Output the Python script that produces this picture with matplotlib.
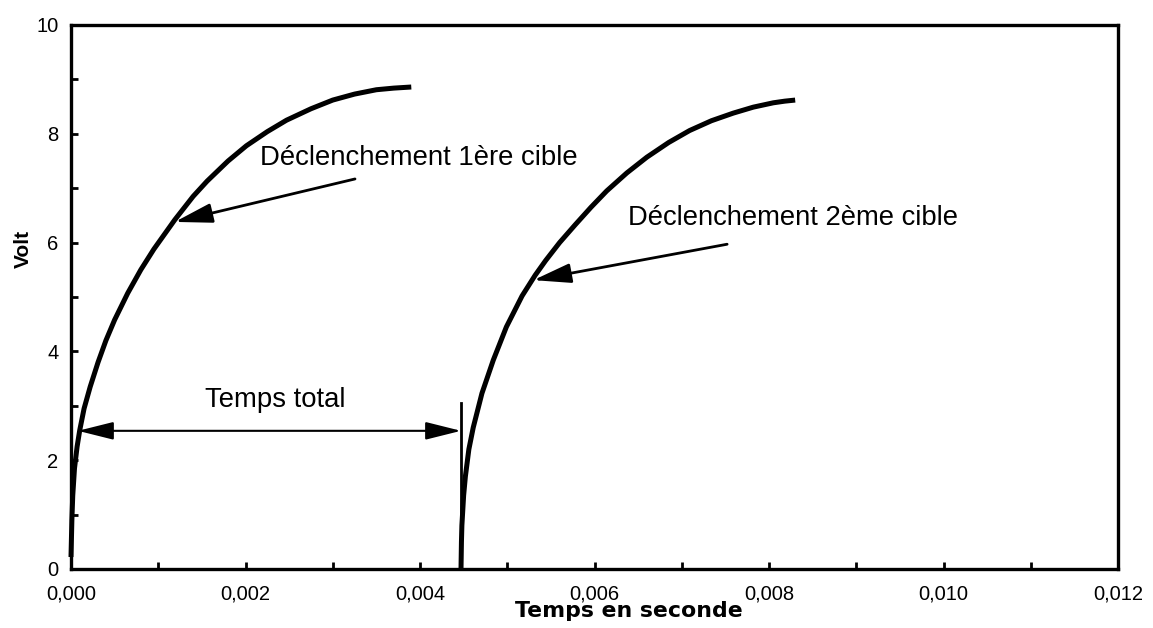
import matplotlib
matplotlib.use("Agg")
import matplotlib.pyplot as plt

plt.rcParams['font.family'] = ['Liberation Sans', 'DejaVu Sans']

# Data (time in s, voltage in V)
t1 = [0.0, 0.00001, 0.00002, 0.00004, 0.00007, 0.00010, 0.00015, 0.00022, 0.00031,
      0.00040, 0.00050, 0.00065, 0.00080, 0.00095, 0.00119, 0.00140, 0.00156,
      0.00180, 0.00201, 0.00225, 0.00247, 0.00275, 0.00300, 0.00325, 0.00350,
      0.00370, 0.00390]
v1 = [0.22, 0.90, 1.35, 1.85, 2.25, 2.55, 2.95, 3.35, 3.80,
      4.20, 4.58, 5.07, 5.50, 5.88, 6.42, 6.85, 7.13,
      7.50, 7.78, 8.04, 8.25, 8.46, 8.62, 8.73, 8.81,
      8.84, 8.86]

t2 = [0.00447, 0.004475, 0.00448, 0.00450, 0.00452, 0.00456, 0.00461, 0.00471, 0.00484,
      0.00499, 0.00517, 0.00532, 0.00544, 0.00560, 0.00578, 0.00596, 0.00614,
      0.00637, 0.00660, 0.00685, 0.00709, 0.00734, 0.00759, 0.00782, 0.00805,
      0.00818, 0.00830]
v2 = [0.0, 0.50, 0.80, 1.35, 1.70, 2.20, 2.60, 3.23, 3.84,
      4.45, 5.02, 5.40, 5.67, 6.00, 6.33, 6.65, 6.95,
      7.28, 7.57, 7.84, 8.06, 8.24, 8.38, 8.49, 8.57,
      8.60, 8.62]

x_ticks = [0.000, 0.002, 0.004, 0.006, 0.008, 0.010, 0.012]
x_tick_labels = ["0,000", "0,002", "0,004", "0,006", "0,008", "0,010", "0,012"]
y_ticks = [0, 2, 4, 6, 8, 10]
y_tick_labels = ["0", "2", "4", "6", "8", "10"]

label1 = "Déclenchement 1ère cible"
label2 = "Déclenchement 2ème cible"
label_total = "Temps total"
x_label = "Temps en seconde"
y_label = "Volt"

# annotation anchor points (data coords)
ann1_tip = (0.00119, 6.38)
ann1_tail = (0.003255, 7.17)
ann1_text = (0.00217, 7.56)
ann2_tip = (0.00530, 5.31)
ann2_tail = (0.00752, 5.97)
ann2_text = (0.00638, 6.45)
total_left = 0.00008
total_v = 2.54
marker_t = 0.00447
marker_top = 3.05
total_text = (0.00234, 3.11)

fig = plt.figure(figsize=(11.53, 6.28), dpi=100)
ax = fig.add_axes([71/1153, 1-569/628, (1118-71)/1153, (569-25)/628])

ax.plot(t1, v1, color='black', lw=3.6, solid_capstyle='butt', solid_joinstyle='round',
        clip_on=False, zorder=3)
ax.plot(t2, v2, color='black', lw=3.6, solid_capstyle='butt', solid_joinstyle='round',
        clip_on=False, zorder=3)

ax.set_xlim(0, 0.012)
ax.set_ylim(0, 10)
ax.set_xticks(x_ticks)
ax.set_xticklabels(x_tick_labels)
ax.set_yticks(y_ticks)
ax.set_yticklabels(y_tick_labels)
ax.set_xticks([i * 0.001 for i in range(13)], minor=True)
ax.set_yticks(list(range(11)), minor=True)
ax.tick_params(which='both', direction='in', width=2, color='black', length=5)
ax.tick_params(axis='x', which='major', labelsize=14.5, pad=11)
ax.tick_params(axis='y', which='major', labelsize=14.5, pad=9)
for s in ax.spines.values():
    s.set_linewidth(2.4)

ax.set_xlabel(x_label, fontsize=15.8, fontweight='bold', family='DejaVu Sans')
ax.xaxis.label.set_va('baseline')
ax.xaxis.set_label_coords((629 - 71) / 1047, (569 - 617) / 544)
ax.set_ylabel(y_label, fontsize=15, fontweight='bold')
ax.yaxis.label.set_va('center')
ax.yaxis.set_label_coords((23 - 71) / 1047, (569 - 249) / 544)

ap = dict(arrowstyle='-|>,head_length=2.3,head_width=0.6', mutation_scale=10,
          color='black', lw=2.0, shrinkA=0, shrinkB=0)
ax.annotate('', xy=ann1_tip, xytext=ann1_tail, arrowprops=ap)
ax.annotate('', xy=ann2_tip, xytext=ann2_tail, arrowprops=ap)
ax.text(*ann1_text, label1, fontsize=19.8, ha='left', va='center')
ax.text(*ann2_text, label2, fontsize=19.7, ha='left', va='center')

ap2 = dict(arrowstyle='<|-|>,head_length=2.2,head_width=0.55', mutation_scale=10,
           color='black', lw=1.5, shrinkA=0, shrinkB=0)
ax.annotate('', xy=(total_left, total_v), xytext=(marker_t, total_v), arrowprops=ap2)
ax.plot([marker_t, marker_t], [0, marker_top], color='black', lw=2.0, clip_on=False)
ax.text(*total_text, label_total, fontsize=19.8, ha='center', va='center')

fig.savefig('out.png', dpi=100)
